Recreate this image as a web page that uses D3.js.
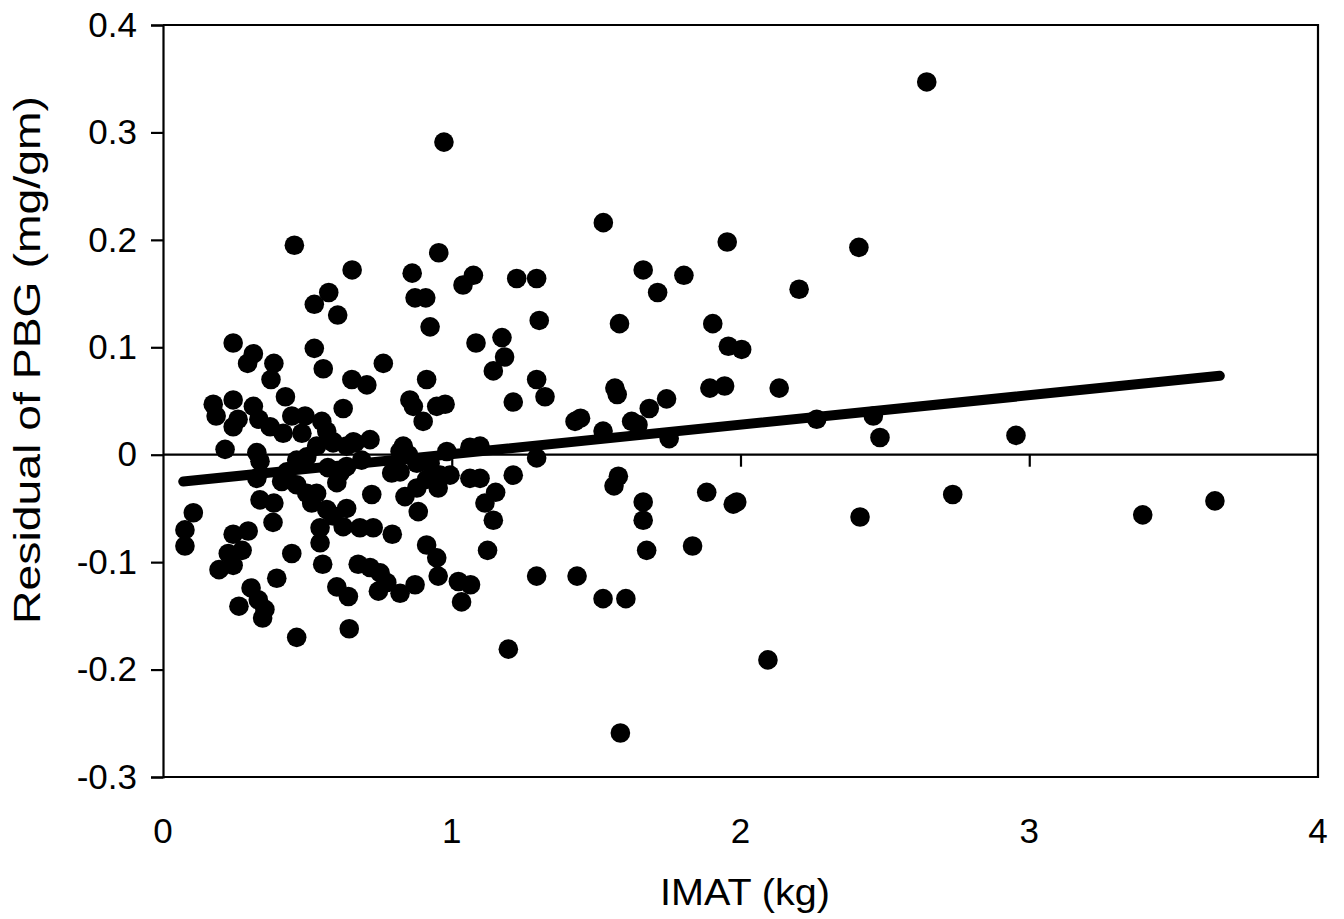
<!DOCTYPE html>
<html><head><meta charset="utf-8">
<script src="https://cdn.jsdelivr.net/npm/d3@7"></script>
<style>
html,body{margin:0;padding:0;background:#fff;}
text{font-family:"Liberation Sans",Arial,Helvetica,sans-serif;fill:#000;}
</style></head>
<body>
<svg id="chart" width="1344" height="919"></svg>
<script>
// IMAT (kg)
const imat = [
0.076,0.076,0.105,0.174,0.184,0.243,0.243,0.260,0.243,0.313,0.293,0.313,0.332,0.215,0.325,0.336,0.325,0.243,0.295,0.226,
0.274,0.243,0.194,0.305,0.330,0.263,0.353,0.345,0.336,0.384,0.381,0.446,0.394,0.463,0.374,0.384,0.424,0.371,0.416,0.446,
0.455,0.411,0.463,0.492,0.481,0.524,0.574,0.605,0.524,0.555,0.550,0.567,0.624,0.590,0.498,0.532,0.515,0.602,0.567,0.590,
0.636,0.544,0.544,0.624,0.553,0.602,0.642,0.645,0.655,0.654,0.706,0.763,0.659,0.717,0.682,0.728,0.723,0.794,0.676,0.717,
0.752,0.775,0.746,0.821,0.792,0.665,0.863,0.873,0.910,0.925,0.955,0.913,0.855,0.867,0.901,0.948,0.977,0.832,0.838,0.879,
0.884,0.913,0.959,0.953,0.913,0.948,0.953,0.873,0.973,0.821,1.039,1.075,1.084,1.174,1.183,1.144,1.063,1.098,1.063,1.098,
0.994,1.152,1.115,1.144,1.124,1.023,1.065,1.034,1.213,1.225,1.294,1.303,1.294,1.323,1.294,1.213,1.196,1.294,1.427,1.446,
1.525,1.524,1.565,1.573,1.581,1.623,1.645,1.663,1.684,1.713,1.744,1.753,1.804,1.434,1.524,1.603,1.584,1.577,1.562,1.663,
1.663,1.675,1.834,1.883,1.894,1.945,1.904,1.954,1.958,2.004,1.975,1.987,2.095,2.134,2.203,2.264,2.410,2.414,2.460,2.483,
2.645,2.735,2.954,3.393,3.643,0.532,0.589,0.636,0.463,0.498,0.429,0.571,0.636,0.688,0.821,0.850,0.879,0.925,0.983,0.613
];
// Residual of PBG (mg/gm)
const residual = [
-0.070,-0.085,-0.054,0.047,0.036,0.104,0.051,0.033,0.026,0.094,0.085,0.045,0.033,0.005,0.002,-0.006,-0.022,-0.074,-0.071,-0.092,
-0.089,-0.103,-0.107,-0.124,-0.135,-0.141,-0.144,-0.152,-0.042,-0.045,-0.063,-0.092,-0.115,-0.170,0.070,0.085,0.054,0.026,0.020,0.036,
0.195,-0.025,-0.028,0.036,0.020,0.140,0.151,0.130,0.099,0.080,0.031,0.022,0.043,0.012,-0.036,-0.036,-0.045,-0.026,-0.051,-0.057,
-0.050,-0.068,-0.082,-0.067,-0.102,-0.123,-0.132,-0.162,0.172,0.070,0.065,0.085,0.012,0.014,-0.068,-0.068,-0.037,-0.074,-0.102,-0.105,
-0.110,-0.119,-0.127,-0.129,-0.017,0.011,0.169,0.146,0.146,0.119,0.188,0.070,0.051,0.045,0.031,0.045,0.047,0.008,-0.039,-0.031,
-0.053,-0.023,-0.019,-0.031,-0.084,-0.096,-0.113,-0.121,0.291,-0.016,0.158,0.167,0.104,0.109,0.091,0.078,0.007,0.008,-0.022,-0.022,
-0.019,-0.035,-0.045,-0.061,-0.089,-0.118,-0.121,-0.137,0.049,0.164,0.164,0.125,0.070,0.054,-0.003,-0.019,-0.181,-0.113,0.031,0.034,
0.216,0.022,0.062,0.056,0.122,0.031,0.028,0.172,0.043,0.151,0.052,0.015,0.167,-0.113,-0.134,-0.134,-0.259,-0.020,-0.029,-0.044,
-0.061,-0.089,-0.085,-0.035,0.062,0.064,0.122,0.198,0.101,0.098,-0.046,-0.044,-0.191,0.062,0.154,0.033,0.193,-0.058,0.036,0.016,
0.347,-0.037,0.018,-0.056,-0.043,0.008,0.011,0.008,-0.005,-0.002,-0.016,-0.012,-0.011,-0.005,0.003,0.000,-0.008,-0.008,0.003,-0.017
];
// fitted trend line endpoints
const trendX = [0.07, 3.66];
const trendY = [-0.025, 0.0735];
const xTicks = [0, 1, 2, 3, 4];
const yTicks = [0.4, 0.3, 0.2, 0.1, 0, -0.1, -0.2, -0.3];
const xTitle = "IMAT (kg)";
const yTitle = "Residual of PBG (mg/gm)";

const svg = d3.select("#chart");
const L = 163, R = 1318, T = 25, B = 777;
const x = d3.scaleLinear().domain([0, 4]).range([L, R]);
const y = d3.scaleLinear().domain([-0.3, 0.4]).range([B, T]);

const fmtY = v => v === 0 ? "0" : d3.format(".1f")(v).replace("\u2212", "-");

// y axis
const yAxis = svg.append("g").attr("transform", `translate(${L},0)`)
  .call(d3.axisLeft(y).tickValues(yTicks).tickSize(12).tickPadding(14).tickFormat(fmtY));
yAxis.selectAll("path,line").attr("stroke", "#000").attr("stroke-width", 2.2);
yAxis.selectAll("text").attr("font-size", 35).attr("font-family", "Liberation Sans, Arial, sans-serif");

// frame top/right/bottom
svg.append("path")
  .attr("d", `M${L},${T}H${R}V${B}H${L}`)
  .attr("fill", "none").attr("stroke", "#000").attr("stroke-width", 2.2);

// x axis at y=0 with ticks down (labels placed at bottom)
const xAxis = svg.append("g").attr("transform", `translate(0,${y(0)})`)
  .call(d3.axisBottom(x).tickValues([1, 2, 3]).tickSize(12).tickFormat(""));
xAxis.select("path").attr("d", `M${L},0H${R}`);
xAxis.selectAll("path,line").attr("stroke", "#000").attr("stroke-width", 2.2);

// x tick labels at bottom
svg.append("g").selectAll("text").data(xTicks).join("text")
  .attr("x", d => x(d)).attr("y", 843)
  .attr("text-anchor", "middle").attr("font-size", 35)
  .text(d => d);

// points
svg.append("g").selectAll("circle").data(imat.map((v, i) => [v, residual[i]])).join("circle")
  .attr("cx", d => x(d[0])).attr("cy", d => y(d[1])).attr("r", 9.8).attr("fill", "#000");

// trend line
svg.append("path")
  .datum(trendX.map((v, i) => [v, trendY[i]]))
  .attr("d", d3.line().x(d => x(d[0])).y(d => y(d[1])))
  .attr("fill", "none").attr("stroke", "#000").attr("stroke-width", 10).attr("stroke-linecap", "round");

// titles
svg.append("text").attr("x", 745).attr("y", 905).attr("text-anchor", "middle")
  .attr("font-size", 37).attr("textLength", 170).attr("lengthAdjust", "spacingAndGlyphs").text(xTitle);
svg.append("text").attr("transform", "translate(40,360) rotate(-90)").attr("text-anchor", "middle")
  .attr("font-size", 37).attr("textLength", 528).attr("lengthAdjust", "spacingAndGlyphs").text(yTitle);
</script>
</body></html>
